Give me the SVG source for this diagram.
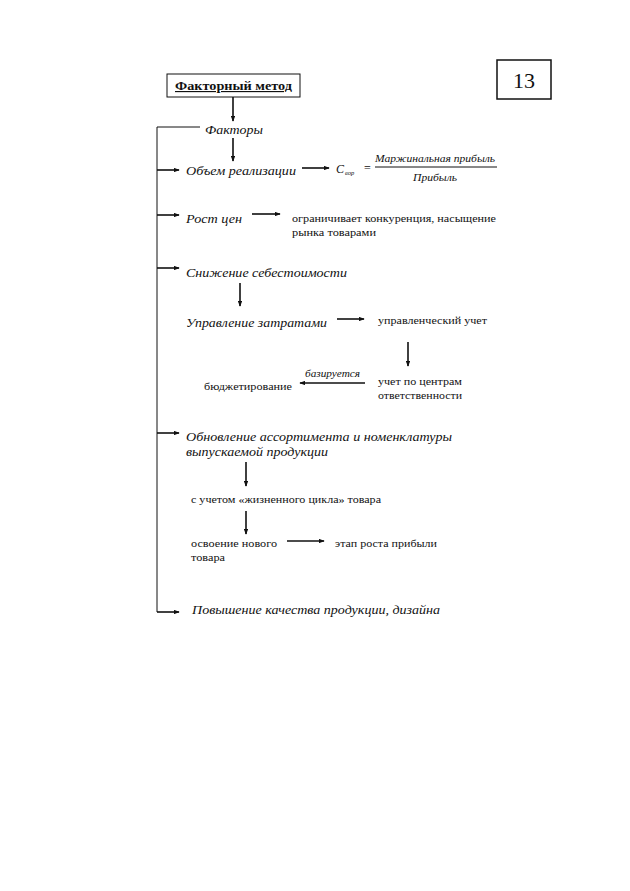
<svg xmlns="http://www.w3.org/2000/svg" width="630" height="891" viewBox="0 0 630 891">
<style>
text{font-family:"Liberation Serif","DejaVu Serif",serif;fill:#111}
.it{font-style:italic;font-size:12.5px}
.rg{font-size:11px}
.sm{font-style:italic;font-size:10px}
.ln{stroke:#111;stroke-width:1.6;fill:none}
.th{stroke:#111;stroke-width:1;fill:none}
</style>
<defs>
<marker id="ah" viewBox="0 0 8 6" refX="7" refY="3" markerWidth="6" markerHeight="4.5" orient="auto" markerUnits="userSpaceOnUse">
<path d="M0,0 L8,3 L0,6 z" fill="#111"/>
</marker>
</defs>
<rect width="630" height="891" fill="#fff"/>

<g id="page-number">
<rect x="497" y="60" width="54" height="39" fill="none" stroke="#111" stroke-width="1.5"/>
<text x="524" y="88" text-anchor="middle" style="font-size:22px">13</text>
</g>

<g id="factor-method">
<rect x="167" y="74" width="133" height="23" fill="none" stroke="#111" stroke-width="1"/>
<text x="175" y="90" textLength="117" lengthAdjust="spacingAndGlyphs" style="font-size:11.5px;font-weight:bold;text-decoration:underline">Факторный метод</text>
</g>

<g id="factors"><text class="it" x="205" y="134" textLength="58" lengthAdjust="spacingAndGlyphs">Факторы</text></g>
<g id="volume"><text class="it" x="186" y="175" textLength="110" lengthAdjust="spacingAndGlyphs">Объем реализации</text></g>
<g id="formula">
<text x="336" y="173" style="font-style:italic;font-size:12px">С</text>
<text x="345" y="175" style="font-style:italic;font-size:6.5px">вор</text>
<text x="364" y="172" style="font-size:12px">=</text>
<text class="it" x="375" y="162" textLength="120" lengthAdjust="spacingAndGlyphs" style="font-size:11px">Маржинальная прибыль</text>
<line x1="375" y1="167" x2="497" y2="167" class="th"/>
<text class="it" x="413" y="181" textLength="44" lengthAdjust="spacingAndGlyphs" style="font-size:11px">Прибыль</text>
</g>
<g id="price"><text class="it" x="186" y="223" textLength="56" lengthAdjust="spacingAndGlyphs">Рост цен</text></g>
<g id="competition">
<text class="rg" x="292" y="222" textLength="204" lengthAdjust="spacingAndGlyphs">ограничивает конкуренция, насыщение</text>
<text class="rg" x="292" y="236" textLength="84" lengthAdjust="spacingAndGlyphs">рынка товарами</text>
</g>
<g id="cost"><text class="it" x="186" y="277" textLength="161" lengthAdjust="spacingAndGlyphs">Снижение себестоимости</text></g>
<g id="cost-mgmt"><text class="it" x="186" y="327" textLength="141" lengthAdjust="spacingAndGlyphs">Управление затратами</text></g>
<g id="mgmt-accounting"><text class="rg" x="378" y="324" textLength="109" lengthAdjust="spacingAndGlyphs">управленческий учет</text></g>
<g id="resp-centers">
<text class="rg" x="378" y="385" textLength="84" lengthAdjust="spacingAndGlyphs">учет по центрам</text>
<text class="rg" x="378" y="399" textLength="84" lengthAdjust="spacingAndGlyphs">ответственности</text>
</g>
<g id="budgeting"><text class="rg" x="204" y="390" textLength="88" lengthAdjust="spacingAndGlyphs">бюджетирование</text></g>
<g id="assortment">
<text class="it" x="186" y="441" textLength="266" lengthAdjust="spacingAndGlyphs">Обновление ассортимента и номенклатуры</text>
<text class="it" x="186" y="456" textLength="142" lengthAdjust="spacingAndGlyphs">выпускаемой продукции</text>
</g>
<g id="life-cycle"><text class="rg" x="191" y="503" textLength="190" lengthAdjust="spacingAndGlyphs">с учетом «жизненного цикла» товара</text></g>
<g id="new-product">
<text class="rg" x="191" y="547" textLength="86" lengthAdjust="spacingAndGlyphs">освоение нового</text>
<text class="rg" x="191" y="561" textLength="34" lengthAdjust="spacingAndGlyphs">товара</text>
</g>
<g id="profit-growth"><text class="rg" x="335" y="547" textLength="102" lengthAdjust="spacingAndGlyphs">этап роста прибыли</text></g>
<g id="quality"><text class="it" x="192" y="614" textLength="248" lengthAdjust="spacingAndGlyphs">Повышение качества продукции, дизайна</text></g>

<g id="connectors">
<line class="ln" x1="233" y1="97" x2="233" y2="121" marker-end="url(#ah)"/>
<polyline class="th" points="200,127 157,127 157,612"/>
<line class="ln" x1="233" y1="138" x2="233" y2="161" marker-end="url(#ah)"/>
<line class="ln" x1="157" y1="170" x2="179" y2="170" marker-end="url(#ah)"/>
<line class="ln" x1="302" y1="168" x2="329" y2="168" marker-end="url(#ah)"/>
<line class="ln" x1="157" y1="215" x2="179" y2="215" marker-end="url(#ah)"/>
<line class="ln" x1="252" y1="214" x2="280" y2="214" marker-end="url(#ah)"/>
<line class="ln" x1="157" y1="268" x2="179" y2="268" marker-end="url(#ah)"/>
<line class="ln" x1="240" y1="283" x2="240" y2="306" marker-end="url(#ah)"/>
<line class="ln" x1="337" y1="319" x2="364" y2="319" marker-end="url(#ah)"/>
<line class="ln" x1="408" y1="342" x2="408" y2="366" marker-end="url(#ah)"/>
<line class="ln" x1="365" y1="383" x2="300" y2="383" marker-end="url(#ah)"/>
<text class="sm" x="305" y="377" textLength="55" lengthAdjust="spacingAndGlyphs">базируется</text>
<line class="ln" x1="157" y1="433" x2="179" y2="433" marker-end="url(#ah)"/>
<line class="ln" x1="246" y1="462" x2="246" y2="486" marker-end="url(#ah)"/>
<line class="ln" x1="246" y1="511" x2="246" y2="534" marker-end="url(#ah)"/>
<line class="ln" x1="287" y1="541" x2="324" y2="541" marker-end="url(#ah)"/>
<line class="ln" x1="157" y1="612" x2="179" y2="612" marker-end="url(#ah)"/>
</g>
</svg>
